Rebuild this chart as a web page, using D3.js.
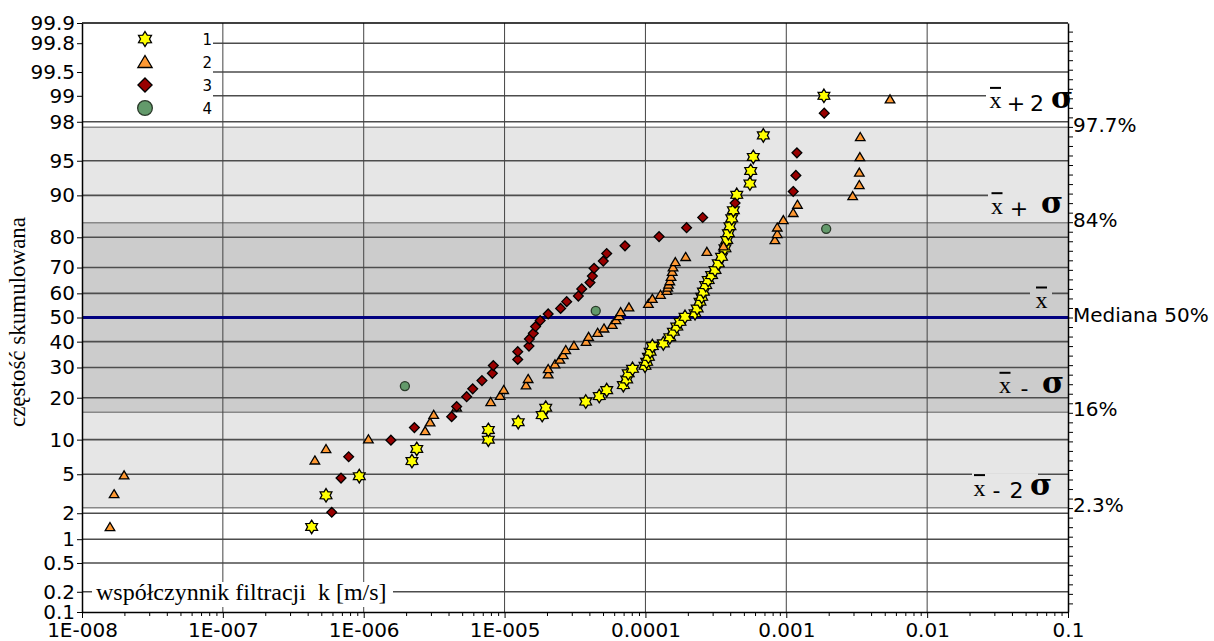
<!DOCTYPE html>
<html>
<head>
<meta charset="utf-8">
<script src="https://cdn.jsdelivr.net/npm/d3@7"></script>
<style>
  body { margin: 0; background: #fff; }
  svg { display: block; }
</style>
</head>
<body>
<div id="chart"></div>
<script>
// probability axis (cumulative %) and log x axis
const yTicks = [0.1, 0.2, 0.5, 1, 2, 5, 10, 20, 30, 40, 50, 60, 70, 80, 90, 95, 98, 99, 99.5, 99.8, 99.9];
const xTicks = [1e-8, 1e-7, 1e-6, 1e-5, 1e-4, 1e-3, 1e-2, 1e-1];
const xTickLabels = ["1E-008", "1E-007", "1E-006", "1E-005", "0.0001", "0.001", "0.01", "0.1"];
const bandOuter = [2.3, 97.7];
const bandInner = [16, 84];
const legendLabels = ["1", "2", "3", "4"];

// series 1 - stars
const s1K = [4.27e-7, 5.4e-7, 9.3e-7, 2.2e-6, 2.38e-6, 7.67e-6, 7.67e-6, 1.25e-5, 1.85e-5, 1.96e-5,
  3.77e-5, 4.7e-5, 5.31e-5, 6.97e-5, 7.36e-5, 7.55e-5, 8.1e-5, 9.93e-5, 1.02e-4, 1.05e-4,
  1.08e-4, 1.12e-4, 1.34e-4, 1.49e-4, 1.58e-4, 1.67e-4, 1.76e-4, 1.91e-4, 2.25e-4, 2.33e-4,
  2.44e-4, 2.51e-4, 2.58e-4, 2.68e-4, 2.79e-4, 2.95e-4, 3.12e-4, 3.29e-4, 3.47e-4, 3.67e-4,
  3.78e-4, 3.88e-4, 3.98e-4, 4.1e-4, 4.21e-4, 4.45e-4, 5.52e-4, 5.59e-4, 5.83e-4, 6.87e-4, 1.85e-3];
const s1P = [1.4, 3.1, 4.8, 6.6, 8.4, 10.0, 11.9, 13.6, 15.3, 17.2,
  18.9, 20.5, 22.3, 23.9, 25.8, 27.9, 29.5, 30.6, 32.1, 34.0,
  36.0, 38.2, 39.3, 41.8, 44.1, 46.2, 48.2, 50.3, 51.8, 53.8,
  56.6, 58.6, 60.7, 63.3, 65.3, 67.2, 69.1, 71.5, 73.8, 76.6,
  79.2, 81.2, 83.1, 85.1, 87.0, 90.1, 92.0, 93.8, 95.4, 97.2, 99.0];

// series 2 - triangles
const s2K = [1.58e-8, 1.69e-8, 1.99e-8, 4.5e-7, 5.4e-7, 1.08e-6, 2.73e-6, 2.96e-6, 3.14e-6, 4.57e-6,
  7.97e-6, 9.3e-6, 9.86e-6, 1.42e-5, 1.47e-5, 2.04e-5, 2.04e-5, 2.28e-5, 2.47e-5, 2.61e-5,
  2.72e-5, 3.11e-5, 3.79e-5, 3.95e-5, 4.58e-5, 5.08e-5, 5.82e-5, 6.18e-5, 6.5e-5, 6.67e-5,
  7.64e-5, 1.05e-4, 1.12e-4, 1.28e-4, 1.42e-4, 1.44e-4, 1.46e-4, 1.49e-4, 1.52e-4, 1.55e-4,
  1.57e-4, 1.63e-4, 1.93e-4, 2.73e-4, 3.58e-4, 8.3e-4, 8.63e-4, 8.63e-4, 9.53e-4, 1.12e-3,
  1.2e-3, 2.96e-3, 3.3e-3, 3.3e-3, 3.33e-3, 3.35e-3, 5.45e-3];
const s2P = [1.4, 3.2, 4.9, 6.7, 8.4, 10.1, 11.7, 13.6, 15.4, 17.3,
  18.8, 20.6, 22.4, 23.9, 26.0, 27.6, 29.5, 31.2, 33.0, 34.7,
  36.7, 38.4, 40.0, 42.0, 43.7, 45.5, 47.0, 49.0, 50.7, 52.3,
  54.3, 55.8, 57.8, 59.5, 61.1, 62.4, 63.6, 64.9, 66.6, 68.5,
  70.1, 72.0, 73.8, 75.5, 77.3, 79.2, 81.0, 82.8, 84.7, 86.4,
  88.2, 89.9, 91.8, 93.6, 95.4, 97.1, 98.9];

// series 3 - diamonds
const s3K = [5.93e-7, 6.9e-7, 7.82e-7, 1.56e-6, 2.29e-6, 4.21e-6, 4.57e-6, 5.38e-6, 5.94e-6, 6.91e-6,
  8.19e-6, 8.32e-6, 1.24e-5, 1.24e-5, 1.49e-5, 1.5e-5, 1.6e-5, 1.66e-5, 1.79e-5, 2.04e-5,
  2.5e-5, 2.76e-5, 3.34e-5, 3.53e-5, 4.04e-5, 4.2e-5, 4.32e-5, 5.02e-5, 5.31e-5, 7.16e-5,
  1.25e-4, 1.96e-4, 2.55e-4, 4.33e-4, 1.12e-3, 1.17e-3, 1.19e-3, 1.86e-3];
const s3P = [2.05, 4.6, 7.2, 9.9, 12.4, 14.9, 17.5, 20.3, 22.7, 25.4,
  27.9, 30.7, 33.0, 36.0, 38.2, 41.1, 43.4, 46.2, 48.7, 51.5,
  53.8, 56.6, 58.9, 61.8, 64.3, 66.8, 69.7, 72.3, 74.9, 77.4,
  80.2, 82.7, 85.3, 88.5, 90.7, 93.2, 95.8, 98.4];

// series 4 - circles
const s4K = [1.96e-6, 4.44e-5, 1.92e-3];
const s4P = [23.6, 52.8, 82.4];

// inverse normal cdf (Acklam)
function probit(p) {
  const a = [-3.969683028665376e+01, 2.209460984245205e+02, -2.759285104469687e+02, 1.383577518672690e+02, -3.066479806614716e+01, 2.506628277459239e+00];
  const b = [-5.447609879822406e+01, 1.615858368580409e+02, -1.556989798598866e+02, 6.680131188771972e+01, -1.328068155288572e+01];
  const c = [-7.784894002430293e-03, -3.223964580411365e-01, -2.400758277161838e+00, -2.549671348283239e+00, 4.374664141464968e+00, 2.938163982698783e+00];
  const d = [7.784695709041462e-03, 3.224671290700398e-01, 2.445134137142996e+00, 3.754408661907416e+00];
  const lo = 0.02425;
  if (p < lo) {
    const q = Math.sqrt(-2 * Math.log(p));
    return (((((c[0]*q+c[1])*q+c[2])*q+c[3])*q+c[4])*q+c[5]) / ((((d[0]*q+d[1])*q+d[2])*q+d[3])*q+1);
  }
  if (p > 1 - lo) return -probit(1 - p);
  const q = p - 0.5, r = q * q;
  return (((((a[0]*r+a[1])*r+a[2])*r+a[3])*r+a[4])*r+a[5])*q / (((((b[0]*r+b[1])*r+b[2])*r+b[3])*r+b[4])*r+1);
}

// custom marker shapes
const star6 = {
  draw(ctx, size) {
    const R = Math.sqrt(size), r = R * 0.6;
    for (let i = 0; i < 12; i++) {
      const a = Math.PI / 6 * i - Math.PI / 2, rad = i % 2 ? r : R;
      i ? ctx.lineTo(rad * Math.cos(a), rad * Math.sin(a)) : ctx.moveTo(rad * Math.cos(a), rad * Math.sin(a));
    }
    ctx.closePath();
  }
};
const tri = {
  draw(ctx, size) {
    const s = Math.sqrt(size);
    ctx.moveTo(0, -s);
    ctx.lineTo(s * 1.1, s * 0.85);
    ctx.lineTo(-s * 1.1, s * 0.85);
    ctx.closePath();
  }
};
const diamond = {
  draw(ctx, size) {
    const s = Math.sqrt(size);
    ctx.moveTo(0, -s); ctx.lineTo(s, 0); ctx.lineTo(0, s); ctx.lineTo(-s, 0);
    ctx.closePath();
  }
};

const W = 1214, H = 641;
const M = {left: 82, right: 1068, top: 23, bottom: 612};
const SANS = "DejaVu Sans, Verdana, sans-serif";
const SERIF = "Liberation Serif, Times New Roman, serif";

const svg = d3.select("#chart").append("svg").attr("width", W).attr("height", H);

const x = d3.scaleLog().domain([xTicks[0], xTicks[xTicks.length - 1]]).range([M.left, M.right]);
const zMax = probit(yTicks[yTicks.length - 1] / 100);
const yz = d3.scaleLinear().domain([-zMax, zMax]).range([M.bottom, M.top]);
const y = p => yz(probit(p / 100));

// shaded bands
[[bandOuter, "#e6e6e6"], [bandInner, "#cccccc"]].forEach(([b, col]) => {
  svg.append("rect")
    .attr("x", M.left).attr("width", M.right - M.left)
    .attr("y", y(b[1])).attr("height", y(b[0]) - y(b[1]))
    .attr("fill", col);
});
svg.append("g").selectAll("line")
  .data(bandOuter.concat(bandInner))
  .join("line")
  .attr("x1", M.left).attr("x2", M.right)
  .attr("y1", d => y(d)).attr("y2", d => y(d))
  .attr("stroke", "#888").attr("stroke-width", 1.5);

// grid
svg.append("g").selectAll("line")
  .data(yTicks.slice(1, -1).filter(p => p !== 50))
  .join("line")
  .attr("x1", M.left).attr("x2", M.right)
  .attr("y1", d => y(d)).attr("y2", d => y(d))
  .attr("stroke", "#4d4d4d").attr("stroke-width", 1.6);

svg.append("g").selectAll("line")
  .data(xTicks.slice(1, -1))
  .join("line")
  .attr("x1", d => x(d)).attr("x2", d => x(d))
  .attr("y1", M.top).attr("y2", M.bottom)
  .attr("stroke", "#444").attr("stroke-width", 1);

// median line
svg.append("line")
  .attr("x1", M.left).attr("x2", M.right)
  .attr("y1", y(50)).attr("y2", y(50))
  .attr("stroke", "#000080").attr("stroke-width", 3);

// sigma annotations (x-bar, sign, multiplier, sigma)
const notes = [
  {z: 2, dy: -24, xb: 995.5, parts: [["+", 1016], ["2", 1037]], sig: 1062, box: [986, M.right, "#fff"]},
  {z: 1, dy: -14, xb: 997, parts: [["+", 1019]], sig: 1052, box: [988, M.right, "#e6e6e6"]},
  {z: 0, dy: -15, xb: 1041.5, parts: [], sig: null, box: [1030, 1052, "#cccccc"]},
  {z: -1, dy: -25, xb: 1005, parts: [["-", 1024.5]], sig: 1053, box: null},
  {z: -2, dy: -18, xb: 979.5, parts: [["-", 996.5], ["2", 1016.5]], sig: 1041, box: [972, 1038, "#e6e6e6"]}
];
notes.forEach(n => {
  const cy = yz(n.z) + n.dy;
  const g = svg.append("g");
  if (n.box) {
    g.append("rect").attr("x", n.box[0]).attr("width", n.box[1] - n.box[0])
      .attr("y", cy - 17).attr("height", 27).attr("fill", n.box[2]);
  }
  g.append("text").attr("x", n.xb).attr("y", cy + 5.5)
    .attr("text-anchor", "middle").attr("font-family", SERIF).attr("font-size", 24).text("x");
  g.append("line").attr("x1", n.xb - 5.5).attr("x2", n.xb + 5.5)
    .attr("y1", cy - 15).attr("y2", cy - 15).attr("stroke", "#000").attr("stroke-width", 2);
  n.parts.forEach(([t, px]) => {
    g.append("text").attr("x", px).attr("y", cy).attr("dy", "0.36em")
      .attr("text-anchor", "middle").attr("font-family", SANS).attr("font-size", 22).text(t);
  });
  if (n.sig) {
    g.append("text").attr("x", n.sig).attr("y", cy - 4).attr("dy", "0.3em")
      .attr("text-anchor", "middle").attr("font-family", "DejaVu Serif, serif")
      .attr("font-weight", "bold").attr("font-size", 30).text("σ");
  }
});

// legend background
const legendY = d3.scaleLinear().domain([0, 3]).range([39, 108]);
svg.append("rect").attr("x", M.left + 1).attr("y", M.top + 1)
  .attr("width", 213 - M.left - 1).attr("height", 119 - M.top - 1).attr("fill", "#fff");

// x-axis title with white background
svg.append("rect").attr("x", 92).attr("y", 582).attr("width", 301).attr("height", 25).attr("fill", "#fff");
svg.append("text").attr("x", 96).attr("y", 600)
  .style("white-space", "pre")
  .attr("font-family", SERIF).attr("font-size", 24).text("współczynnik filtracji  k [m/s]");

// axes
const minorTicks = [];
xTicks.slice(0, -1).forEach(t => { for (let m = 2; m <= 9; m++) minorTicks.push(t * m); });

svg.append("g").attr("transform", `translate(0,${M.bottom})`)
  .call(d3.axisBottom(x).tickValues(minorTicks).tickFormat("").tickSize(4).tickSizeOuter(0))
  .call(g => g.select(".domain").remove());

const xAxis = svg.append("g").attr("transform", `translate(0,${M.bottom})`)
  .call(d3.axisBottom(x).tickValues(xTicks).tickFormat((d, i) => xTickLabels[i])
    .tickSize(6).tickSizeOuter(0).tickPadding(5));
xAxis.selectAll("text").attr("font-family", SANS).attr("font-size", 20).attr("fill", "#000");

const yAxis = svg.append("g").attr("transform", `translate(${M.left},0)`)
  .call(d3.axisLeft(yz).tickValues(yTicks.map(p => probit(p / 100))).tickFormat((d, i) => yTicks[i])
    .tickSize(5).tickSizeOuter(0).tickPadding(2));
yAxis.selectAll("text").attr("font-family", SANS).attr("font-size", 20).attr("fill", "#000");

svg.append("g").attr("transform", `translate(${M.right},0)`)
  .call(d3.axisRight(yz).tickValues(d3.range(-30, 31).map(i => i / 10)).tickFormat("")
    .tickSize(5).tickSizeOuter(0));

svg.selectAll(".domain").attr("stroke", "#000").attr("stroke-width", 1.5);
svg.selectAll(".tick line").attr("stroke", "#000");

svg.append("line").attr("x1", M.left).attr("x2", M.right)
  .attr("y1", M.top).attr("y2", M.top).attr("stroke", "#000").attr("stroke-width", 1.5);

// data series
const series = [
  {k: s1K, p: s1P, type: star6, size: 46, fill: "#ffff00", stroke: "#000", lsize: 56},
  {k: s2K, p: s2P, type: tri, size: 19, fill: "#ff9933", stroke: "#000", lsize: 42},
  {k: s3K, p: s3P, type: diamond, size: 24, fill: "#990000", stroke: "#000", lsize: 50},
  {k: s4K, p: s4P, type: d3.symbolCircle, size: 64, fill: "#639a6b", stroke: "#2a3a2a", lsize: 170}
];
series.forEach(s => {
  svg.append("g").selectAll("path")
    .data(d3.zip(s.k, s.p))
    .join("path")
    .attr("transform", d => `translate(${x(d[0])},${y(d[1])})`)
    .attr("d", d3.symbol().type(s.type).size(s.size))
    .attr("fill", s.fill).attr("stroke", s.stroke).attr("stroke-width", 1.3);
});

// legend
const legend = svg.append("g");
legend.selectAll("path").data(series).join("path")
  .attr("transform", (d, i) => `translate(145,${legendY(i)})`)
  .attr("d", d => d3.symbol().type(d.type).size(d.lsize)())
  .attr("fill", d => d.fill).attr("stroke", d => d.stroke).attr("stroke-width", 1.3);
legend.selectAll("text").data(legendLabels).join("text")
  .attr("x", 212).attr("y", (d, i) => legendY(i) + 1).attr("dy", "0.35em")
  .attr("text-anchor", "end").attr("font-family", SANS).attr("font-size", 15).text(d => d);

// right-hand labels
const rightLabels = [[97.7, "97.7%"], [84, "84%"], [50, "Mediana 50%"], [16, "16%"], [2.3, "2.3%"]];
svg.append("g").selectAll("text").data(rightLabels).join("text")
  .attr("x", M.right + 5).attr("y", d => y(d[0]) - 3).attr("dy", "0.36em")
  .attr("font-family", SANS).attr("font-size", 20).text(d => d[1]);

// y-axis title
svg.append("text").attr("transform", "translate(25,322) rotate(-90)")
  .attr("text-anchor", "middle").attr("font-family", SERIF).attr("font-size", 23)
  .text("częstość skumulowana");
</script>
</body>
</html>
